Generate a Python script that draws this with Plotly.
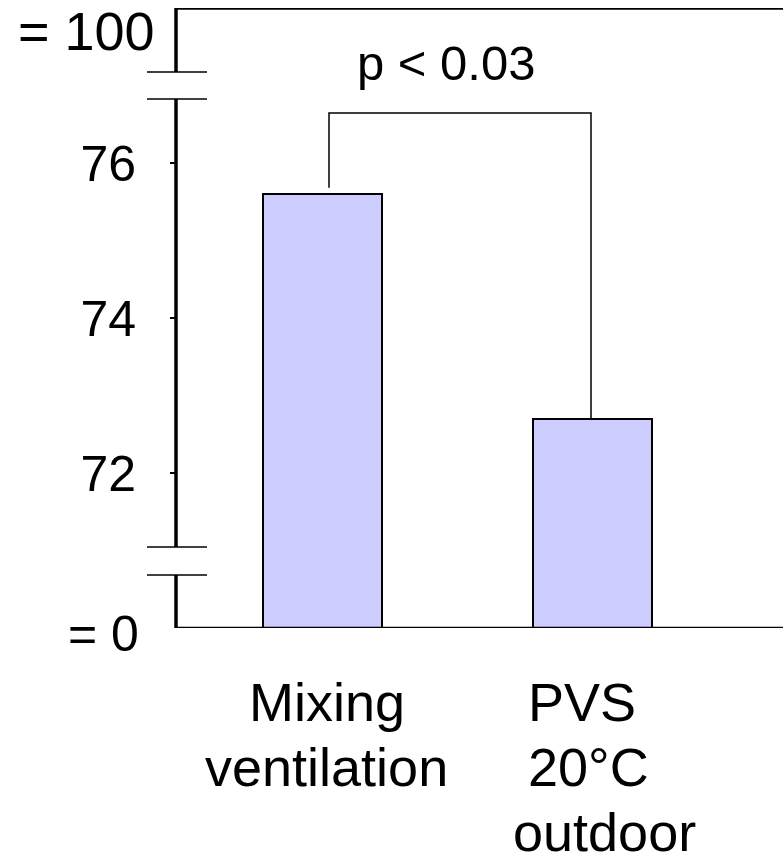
import plotly.graph_objects as go

# ---- data ----
categories = ["Mixing ventilation", "PVS 20°C outdoor"]
values = [75.6, 72.7]
tick_vals = [72, 74, 76]
tick_text = ["72", "74", "76"]
p_text = "p < 0.03"
label_lines_0 = ["Mixing", "ventilation"]
label_lines_1 = ["PVS", "20°C", "outdoor"]

FONT = "Liberation Sans, Arial, sans-serif"
W, H = 783, 859
L, T, B = 176, 8, 231
Y0, Y1 = 70, 78
plot_h = H - T - B
ppu = plot_h / (Y1 - Y0)        # pixels per y unit
ppx = 269.5                     # pixels per x unit
XR = [-(322.5 - L) / ppx, 1 + (W - 592) / ppx]
plot_w = W - L


def py(pix):  # pixel row -> data y
    return Y0 + (T + plot_h - pix) / ppu


xpos = list(range(len(categories)))

fig = go.Figure()
fig.add_trace(go.Bar(
    x=xpos, y=[v - Y0 for v in values], base=Y0,
    width=119 / ppx,
    marker=dict(color="#ccccff", line=dict(color="black", width=2)),
    hoverinfo="skip", showlegend=False,
))

shapes = []
line_k = dict(color="black", width=3.5)
# broken left axis
for a, b in [(628, 575), (547, 99), (72, T - 1)]:
    shapes.append(dict(type="line", xref="paper", yref="y", x0=0, x1=0,
                       y0=py(a), y1=py(b), line=line_k, layer="above"))
for r in [575, 547, 99, 72]:
    shapes.append(dict(type="line", xref="paper", yref="y",
                       x0=-29 / plot_w, x1=31 / plot_w, y0=py(r), y1=py(r),
                       line=dict(color="black", width=1.5), layer="above"))
# top & bottom frame
shapes.append(dict(type="line", xref="paper", yref="y", x0=0, x1=1, y0=Y1, y1=Y1,
                   line=line_k, layer="above"))
shapes.append(dict(type="line", xref="paper", yref="y", x0=0, x1=1, y0=Y0, y1=Y0,
                   line=dict(color="black", width=2.5), layer="above"))
# significance bracket
lx, rx = xpos[0] + 6.5 / ppx, xpos[1] - 1 / ppx
top = py(113)
shapes.append(dict(type="path", xref="x", yref="y",
                   path=f"M {lx},{values[0] + 0.08} L {lx},{top} L {rx},{top} L {rx},{values[1]}",
                   line=dict(color="black", width=1.5), layer="above"))

ann = []
ann.append(dict(text=p_text, xref="x", yref="y", x=(446 - 322.5) / ppx, y=py(63),
                showarrow=False, font=dict(family=FONT, size=49, color="black"),
                xanchor="center", yanchor="middle"))
ann.append(dict(text="= 100", xref="paper", yref="y", x=0, xshift=-19, y=Y1, yshift=-23,
                showarrow=False, font=dict(family=FONT, size=54, color="black"),
                xanchor="right", yanchor="middle"))
ann.append(dict(text="= 0", xref="paper", yref="y", x=0, xshift=-35, y=Y0, yshift=-6,
                showarrow=False, font=dict(family=FONT, size=50, color="black"),
                xanchor="right", yanchor="middle"))


def paper_y(pix):
    return (T + plot_h - pix) / plot_h


for i, t in enumerate(label_lines_0):
    ann.append(dict(text=t, xref="x", yref="paper", x=xpos[0] + 4 / ppx,
                    y=paper_y(702 + 65 * i), showarrow=False,
                    font=dict(family=FONT, size=54, color="black"),
                    xanchor="center", yanchor="middle"))
starts = [526, 526, 511]
for i, t in enumerate(label_lines_1):
    ann.append(dict(text=t, xref="x", yref="paper", x=xpos[1] + (starts[i] - 592) / ppx,
                    y=paper_y(702 + 65 * i), showarrow=False,
                    font=dict(family=FONT, size=54, color="black"),
                    xanchor="left", yanchor="middle"))

fig.update_layout(
    width=W, height=H,
    margin=dict(l=L, r=0, t=T, b=B, pad=0),
    paper_bgcolor="white", plot_bgcolor="white",
    shapes=shapes, annotations=ann,
    xaxis=dict(range=XR, showgrid=False, zeroline=False, showline=False,
               showticklabels=False, ticks="", fixedrange=True),
    yaxis=dict(range=[Y0, Y1], showgrid=False, zeroline=False, showline=False,
               tickvals=tick_vals, ticktext=tick_text, ticks="outside", ticklen=5,
               tickwidth=2, tickcolor="black", ticklabelstandoff=24,
               tickfont=dict(family=FONT, size=50, color="black"), fixedrange=True),
    bargap=0,
)

fig.write_html("out.html", config={"displayModeBar": False})
